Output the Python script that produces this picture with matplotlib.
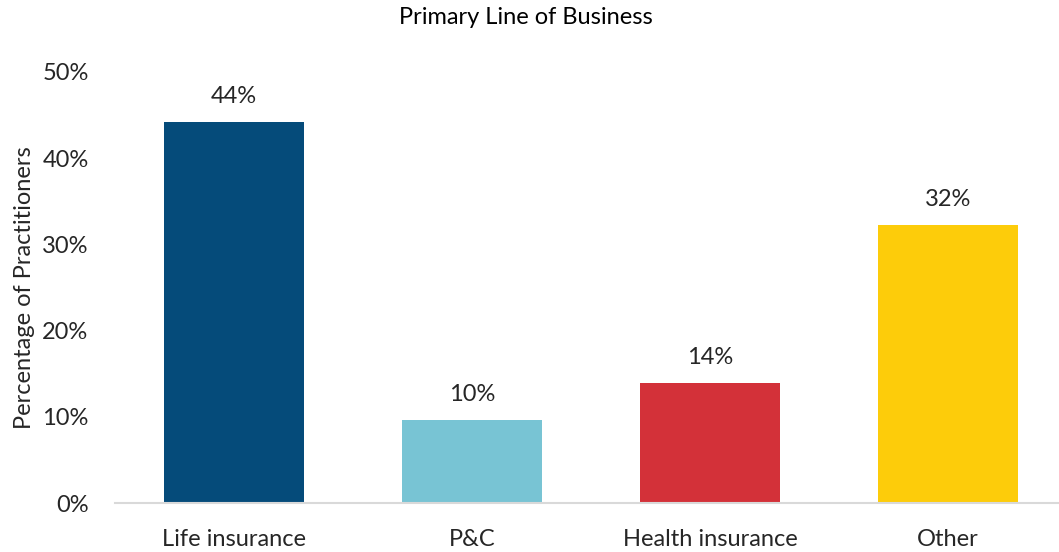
import matplotlib
matplotlib.use("Agg")
import matplotlib.pyplot as plt
from matplotlib.ticker import FuncFormatter

categories = ["Life insurance", "P&C", "Health insurance", "Other"]
values = [44.2, 9.6, 13.9, 32.2]
labels = ["44%", "10%", "14%", "32%"]
colors = ["#054B7A", "#78C4D4", "#D33139", "#FDCC0A"]

plt.rcParams['font.family'] = ['Lato', 'DejaVu Sans']
txt = "#262626"

fig = plt.figure(figsize=(10.59, 5.52), dpi=100)
ax = fig.add_axes([115 / 1059, 1 - 503 / 552, 944 / 1059, 431 / 552])

x = range(len(categories))
ax.bar(x, values, width=0.59, color=colors)

for i, v in enumerate(values):
    ax.annotate(labels[i], (i, v), xytext=(0, 11), textcoords="offset points",
                ha="center", va="bottom", fontsize=17, color=txt)

ax.set_xlim(-0.5, 3.466)
ax.set_ylim(0, 50)
ax.set_yticks([0, 10, 20, 30, 40, 50])
ax.yaxis.set_major_formatter(FuncFormatter(lambda v, p: f"{v:.0f}%"))
ax.set_xticks(list(x))
ax.set_xticklabels(categories)

for s in ["top", "right", "left"]:
    ax.spines[s].set_visible(False)
ax.spines["bottom"].set_color("#D9D9D9")
ax.spines["bottom"].set_linewidth(1.5)

ax.tick_params(axis="both", length=0, labelsize=17, colors=txt)
ax.tick_params(axis="y", pad=19)
ax.tick_params(axis="x", pad=19)

ax.set_ylabel("Percentage of Practitioners", fontsize=17, color=txt, labelpad=5)
fig.text(526 / 1059, 1 - 18 / 552, "Primary Line of Business", ha="center", va="center",
         fontsize=17, color="black")

fig.savefig("out.png", dpi=100)
